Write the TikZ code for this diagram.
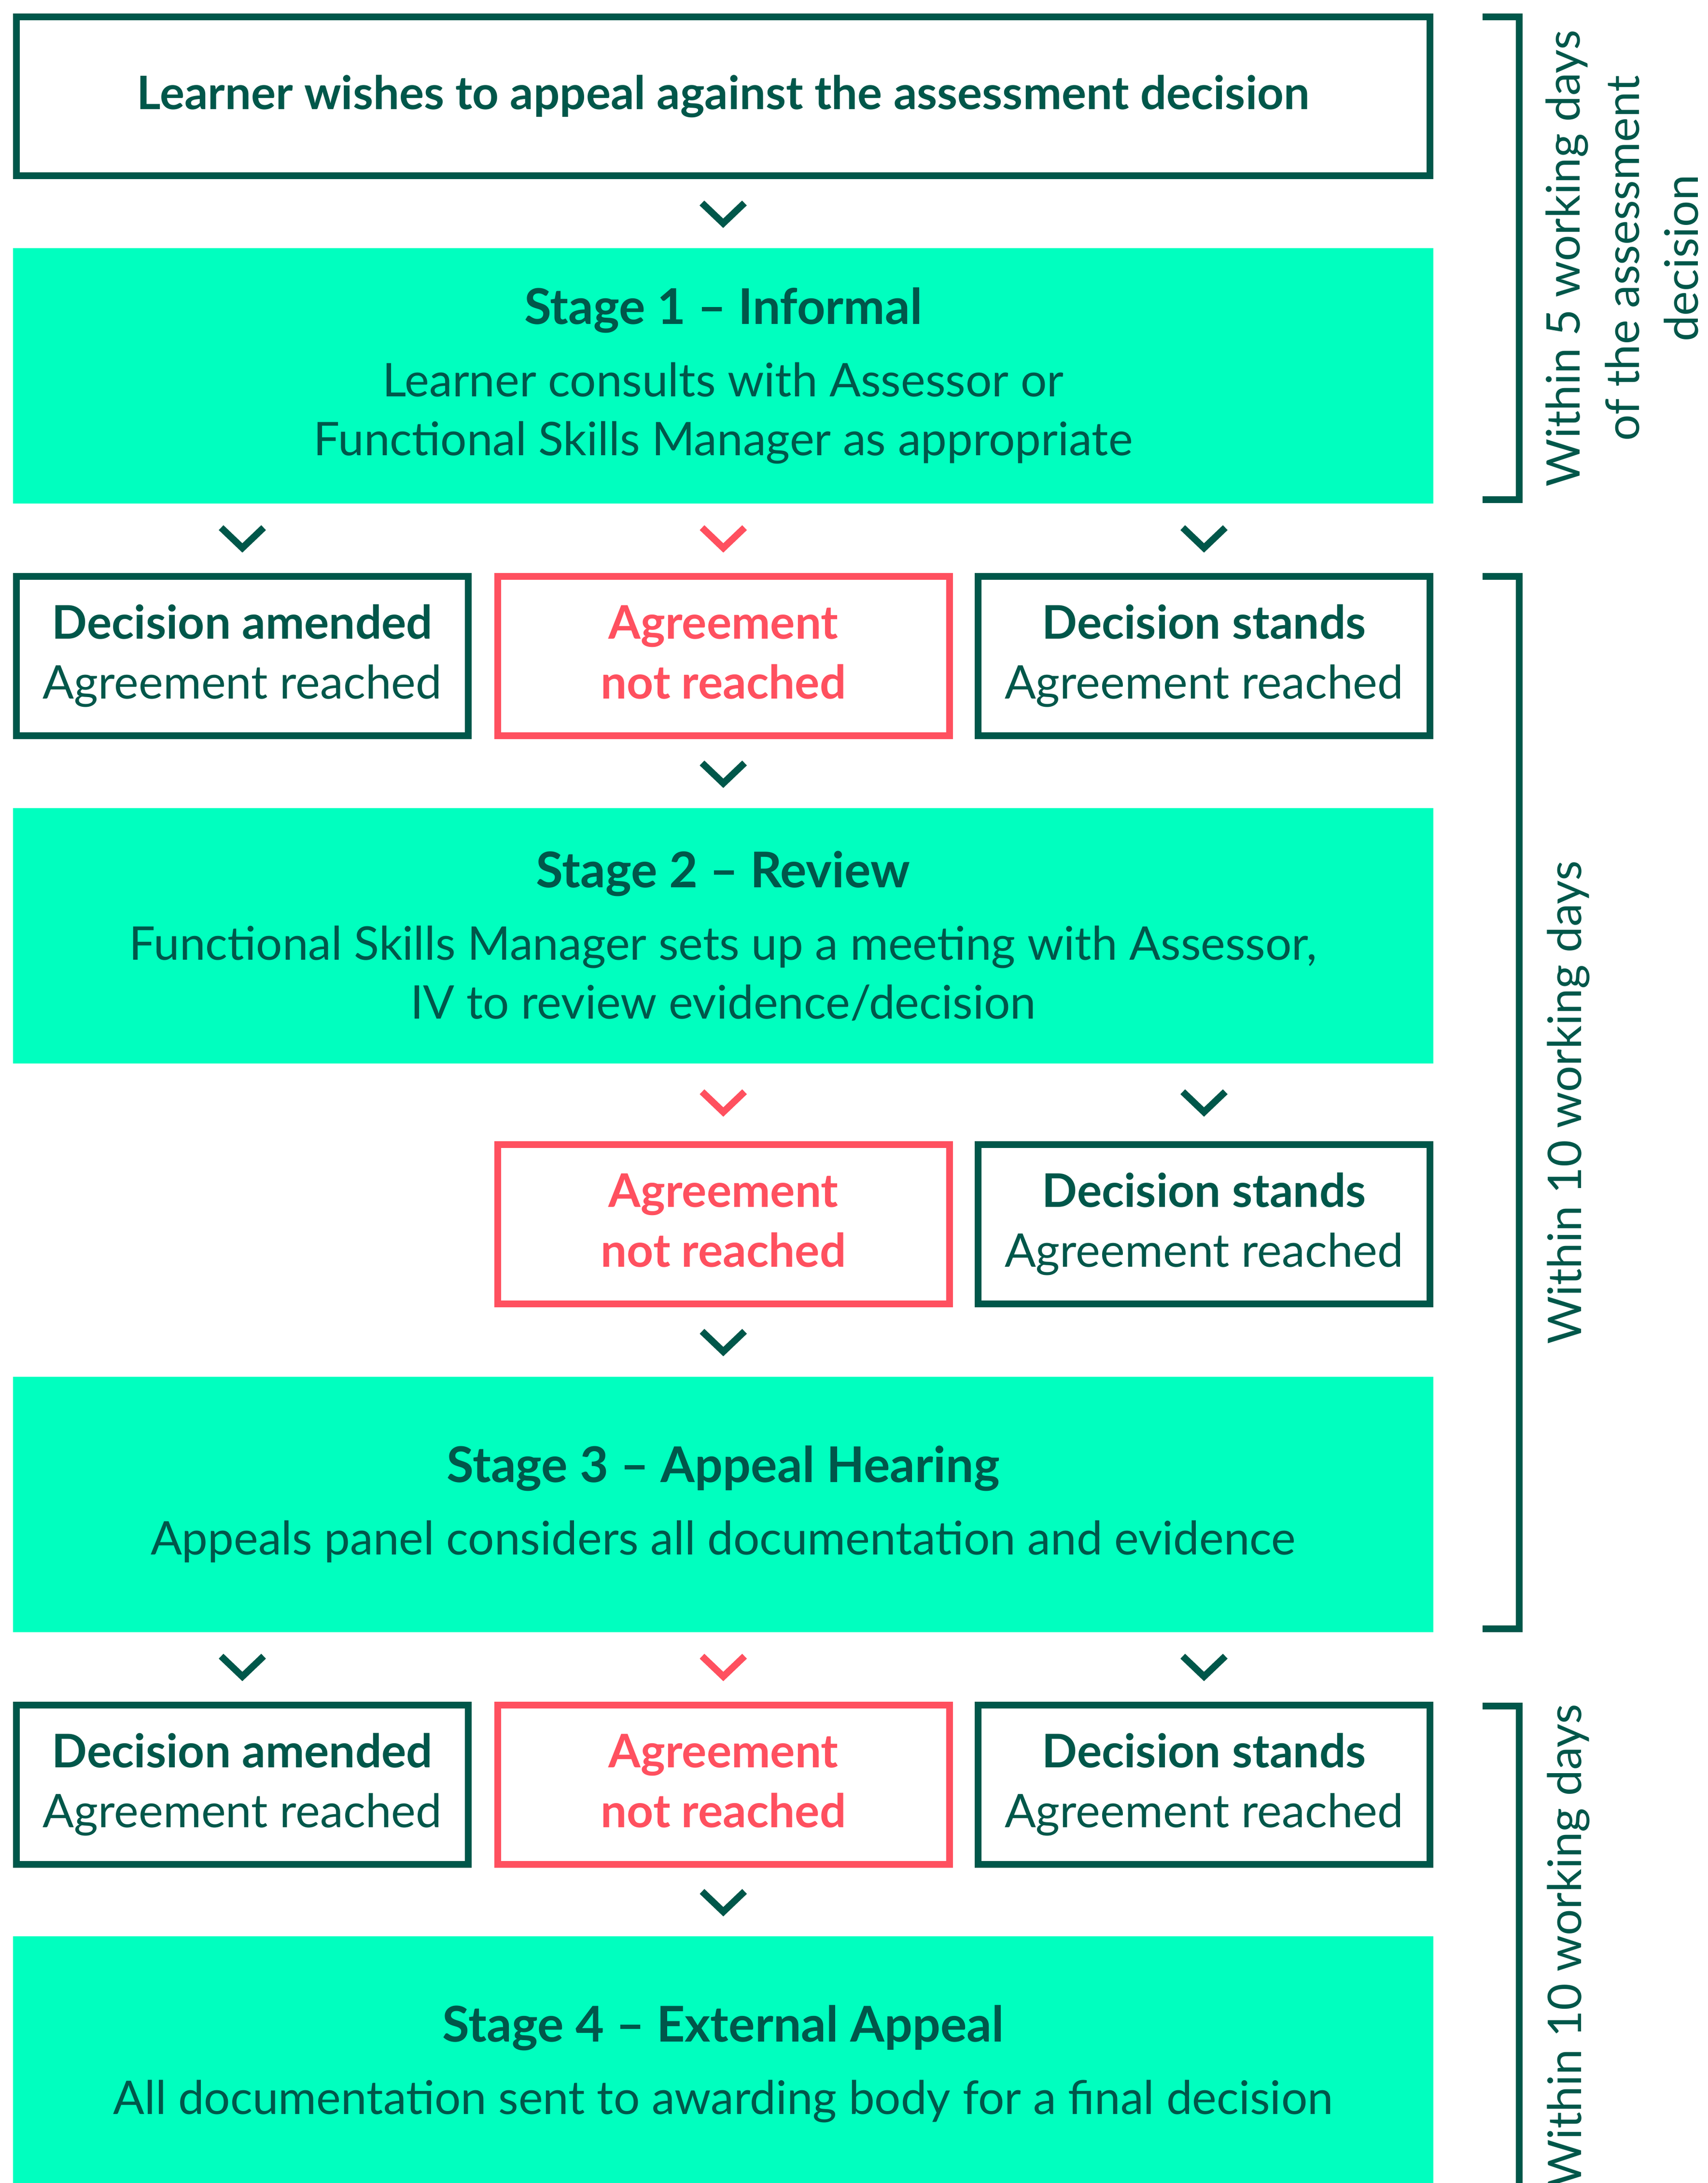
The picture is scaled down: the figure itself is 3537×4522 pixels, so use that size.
\documentclass[tikz,border=0pt]{standalone}
\usepackage{fontspec}
\setmainfont{Lato}
\usetikzlibrary{calc}
\definecolor{appgreen}{HTML}{00574A}
\definecolor{appmint}{HTML}{00FFBF}
\definecolor{appred}{HTML}{FF505F}
\newcommand{\stagetitle}[1]{{\fontsize{25.5pt}{30.5pt}\selectfont\bfseries #1}}
\tikzset{
  stagebox/.style={fill=appmint, minimum width=735.5pt, minimum height=132.25pt, outer sep=0pt, inner sep=0pt, text=appgreen, align=center, font=\fontsize{24pt}{30.5pt}\selectfont},
  startbox/.style={draw=appgreen, line width=3.5pt, minimum width=732pt, minimum height=82.25pt, inner sep=0pt, text=appgreen, font=\fontsize{23.9pt}{30.5pt}\selectfont\bfseries},
  outcome/.style={draw=appgreen, line width=3.5pt, minimum width=234pt, minimum height=82.5pt, inner sep=0pt, text=appgreen, align=center, font=\fontsize{24pt}{31pt}\selectfont},
  failbox/.style={outcome, draw=appred, text=appred, font=\fontsize{24pt}{31pt}\selectfont\bfseries},
  bracket/.style={draw=appgreen, line width=3.5pt},
  daysnote/.style={rotate=90, text=appgreen, align=center, inner sep=0pt, font=\fontsize{24pt}{30.6pt}\selectfont},
  chevron/.pic={\draw[line width=3.5pt] (-44,-42) -- (0,0) -- (44,-42);}
}
\begin{document}
\begin{tikzpicture}[x=0.25pt, y=-0.25pt, color=appgreen]
\useasboundingbox (0,0) rectangle (3537,4522);
% boxes down the middle
\node[startbox] (start) at (1498,199.5) {Learner wishes to appeal against the assessment decision};
\node[stagebox] (s1) at (1498,778.5) {\stagetitle{Stage 1 – Informal}\\[7pt]Learner consults with Assessor or\\Functional Skills Manager as appropriate};
\node[outcome] (r1a) at (502,1359) {{\bfseries Decision amended}\\Agreement reached};
\node[failbox] (r1b) at (1498.5,1359) {Agreement\\not reached\vphantom{g}};
\node[outcome] (r1c) at (2494,1359) {{\bfseries Decision stands}\\Agreement reached};
\node[stagebox] (s2) at (1498,1938.5) {\stagetitle{Stage 2 – Review}\\[7pt]Functional Skills Manager sets up a meeting with Assessor,\\IV to review evidence/decision};
\node[failbox] (r2b) at (1498.5,2536) {Agreement\\not reached\vphantom{g}};
\node[outcome] (r2c) at (2494,2536) {{\bfseries Decision stands}\\Agreement reached};
\node[stagebox] (s3) at (1498,3116) {\stagetitle{Stage 3 – Appeal Hearing}\\[7pt]Appeals panel considers all documentation and evidence};
\node[outcome] (r3a) at (502,3697) {{\bfseries Decision amended}\\Agreement reached};
\node[failbox] (r3b) at (1498.5,3697) {Agreement\\not reached\vphantom{g}};
\node[outcome] (r3c) at (2494,3697) {{\bfseries Decision stands}\\Agreement reached};
\node[stagebox] (s4) at (1498,4275.5) {\stagetitle{Stage 4 – External Appeal}\\[7pt]All documentation sent to awarding body for a final decision};
% chevrons between the boxes
\pic at ($(start.south)!.5!(s1.north)+(0,20)$) {chevron};
\pic at ($(r1a.north)!.5!(r1a.north |- s1.south)+(0,20)$) {chevron};
\pic[appred] at ($(s1.south)!.5!(r1b.north)+(0,20)$) {chevron};
\pic at ($(r1c.north)!.5!(r1c.north |- s1.south)+(0,20)$) {chevron};
\pic at ($(r1b.south)!.5!(s2.north)+(0,20)$) {chevron};
\pic[appred] at ($(s2.south)!.5!(r2b.north)+(0,20)$) {chevron};
\pic at ($(r2c.north)!.5!(r2c.north |- s2.south)+(0,20)$) {chevron};
\pic at ($(r2b.south)!.5!(s3.north)+(0,20)$) {chevron};
\pic at ($(r3a.north)!.5!(r3a.north |- s3.south)+(0,20)$) {chevron};
\pic[appred] at ($(s3.south)!.5!(r3b.north)+(0,20)$) {chevron};
\pic at ($(r3c.north)!.5!(r3c.north |- s3.south)+(0,20)$) {chevron};
\pic at ($(r3b.south)!.5!(s4.north)+(0,20)$) {chevron};
% time brackets on the right
\draw[bracket] (3071,35) -| (3147,1035) -- (3071,1035);
\draw[bracket] (3071,1194) -| (3147,3374) -- (3071,3374);
\draw[bracket] (3071,3534) -| (3147,4600);
\node[daysnote] (days1) at (3360,535) {Within 5 working days\\of the assessment\\decision};
\node[daysnote, anchor=base] (days2) at (3275,2284) {Within 10 working days};
\node[daysnote, anchor=base] (days3) at (3275,4031) {Within 10 working days};
\end{tikzpicture}
\end{document}
